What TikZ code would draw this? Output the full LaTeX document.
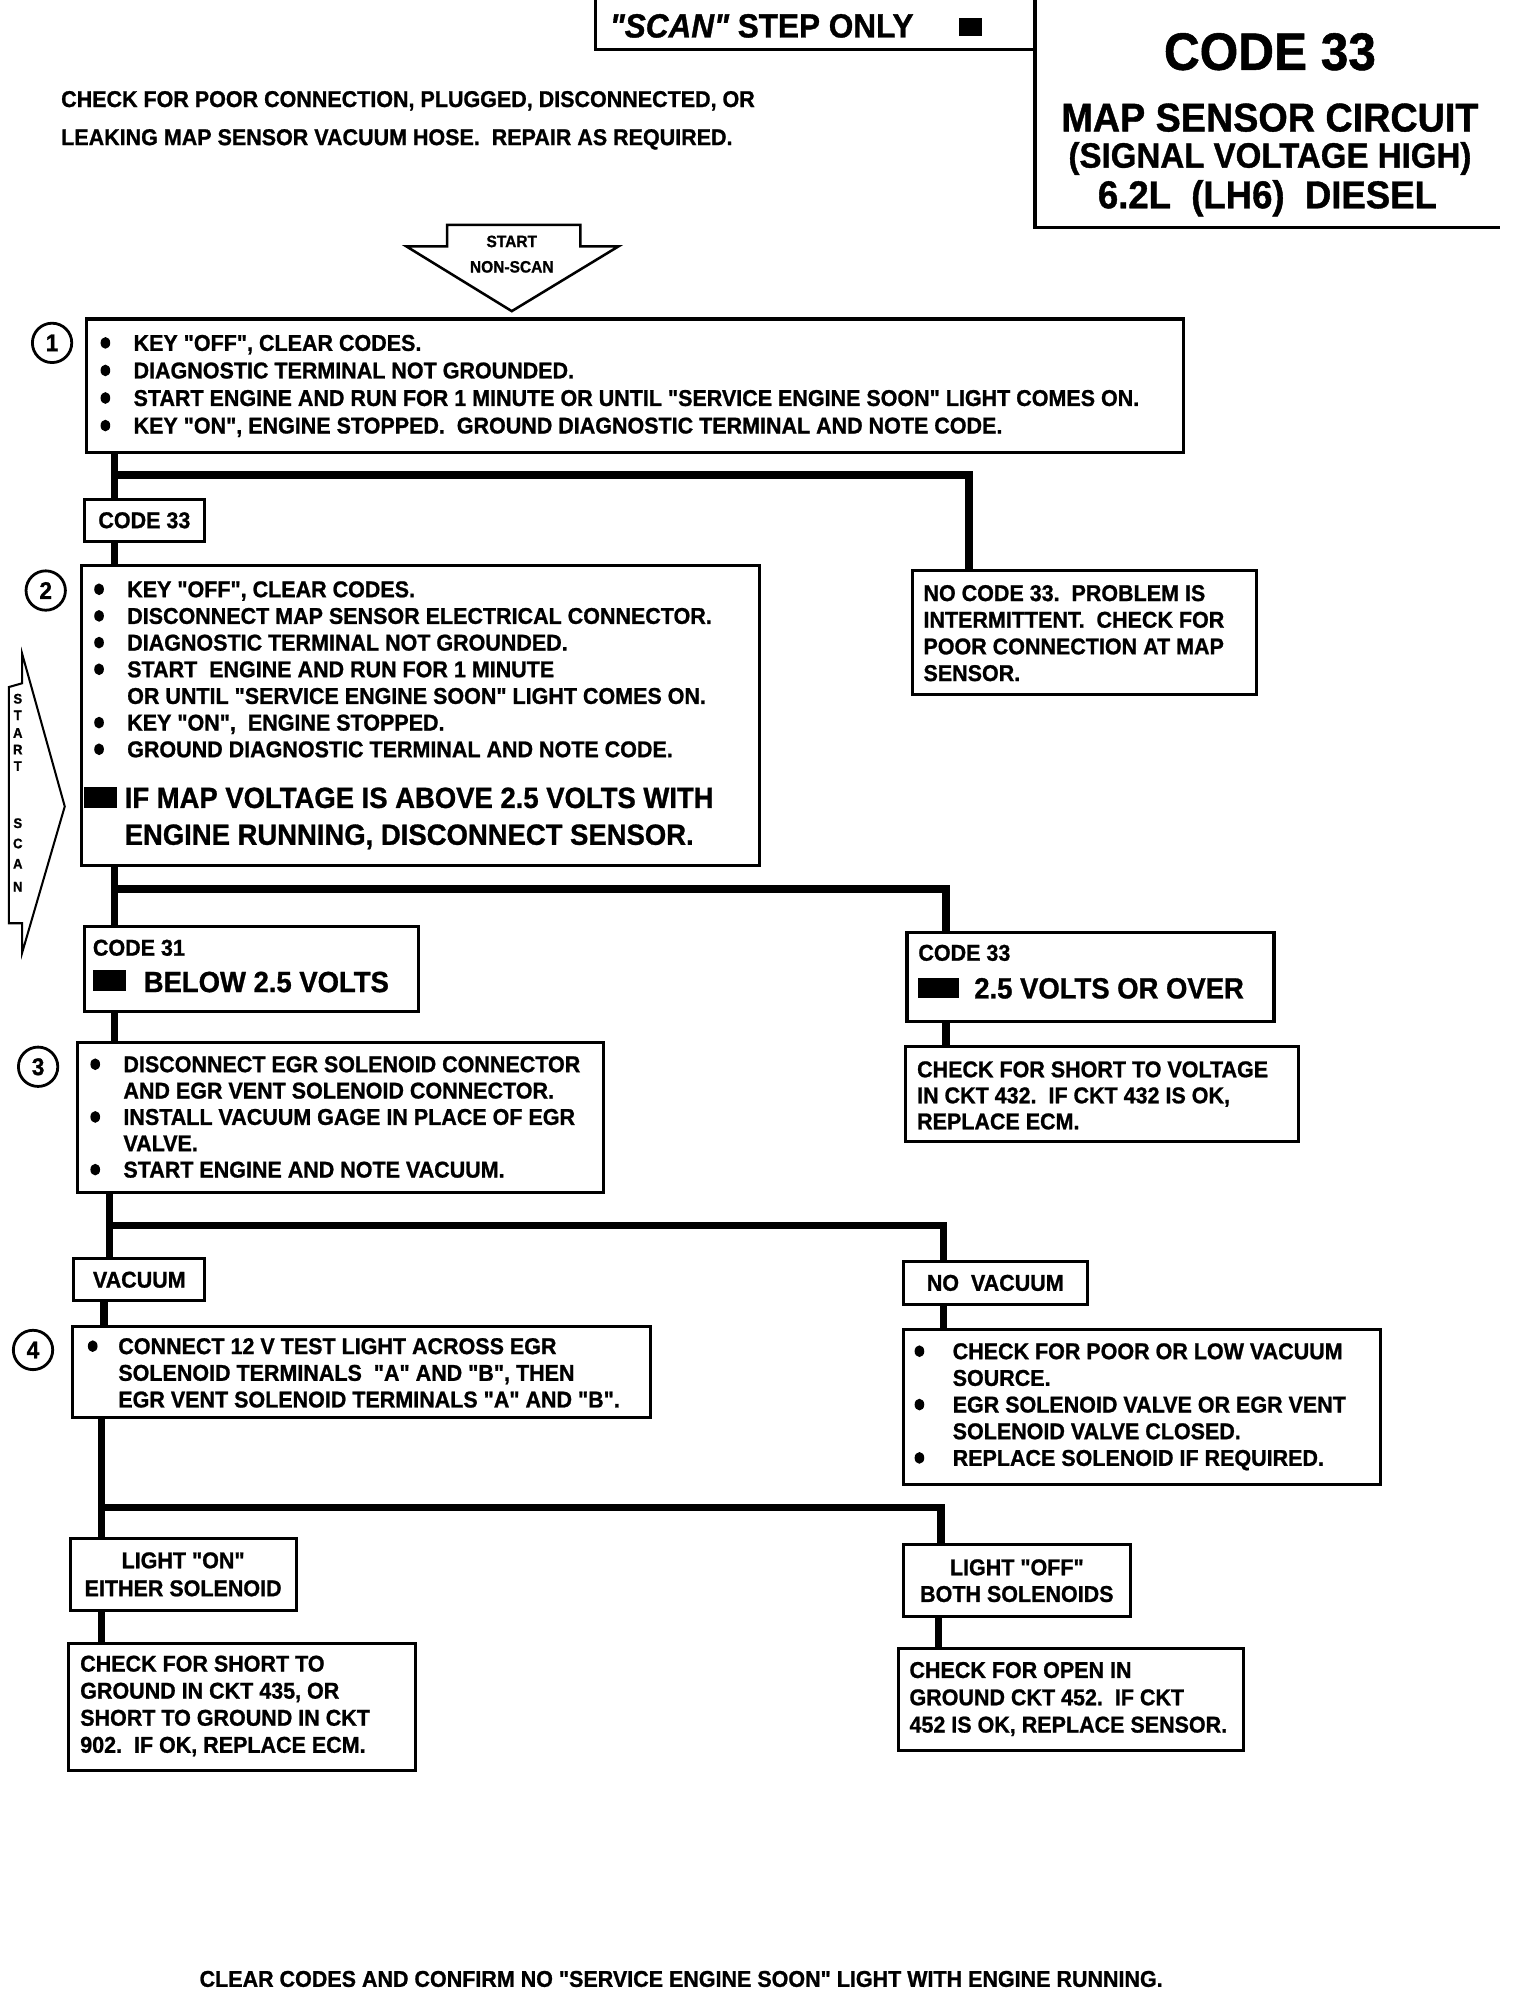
\documentclass[tikz,border=0pt]{standalone}
\usepackage{fontspec}
\setmainfont{Liberation Sans}[FakeStretch=0.94, FakeBold=1, Ligatures=TeXOff]
\newcommand\myfs[2]{\fontsize{#1}{#2}\selectfont}
\newcommand\bx[6][]{\node[box,#1, minimum width={(#5)-(#3)}, minimum height={(#6)-(#4)}] (#2) at (#3,#4)}
\newcommand\bdot[2]{\fill (#1,#2) ellipse [x radius=3.8pt, y radius=4.6pt];}
\begin{document}
\begin{tikzpicture}[x=1pt,y=-1pt,
  box/.style={draw, line width=2.4pt, anchor=north west, inner sep=0pt, font=\bfseries\myfs{18}{21}},
  conn/.style={line width=5.8pt, line join=miter},
  frame/.style={line width=2.4pt},
  txt/.style={inner sep=0pt, align=left, anchor=north west, font=\bfseries\myfs{18}{21}},
  btxt/.style={inner sep=0pt, anchor=base west, font=\bfseries\myfs{23}{29}},
  stxt/.style={inner sep=0pt, anchor=base west, font=\bfseries\myfs{18}{21}},
  ttl/.style={inner sep=0pt, anchor=base},
  num/.style={circle, draw, line width=2.2pt, minimum size=31pt, inner sep=0pt, font=\bfseries\myfs{19}{19}},
  arr/.style={line width=2pt, line join=miter},
  vl/.style={inner sep=0pt, anchor=base, font=\bfseries\myfs{11}{11}}
]
\fill[white] (0,0) rectangle (1197,1567);
\useasboundingbox (0,0) rectangle (1197,1567);

% ---------- header ----------
\draw[frame] (469,0) -- (469,39) -- (815,39);
\draw[frame] (815,0) -- (815,179) -- (1181,179);
\node[ttl, anchor=base west, font=\bfseries\myfs{26.4}{30}] (scan) at (480,29.5) {\itshape "SCAN"\upshape\ STEP ONLY};
\fill (755,14) rectangle (773,28);
\node[ttl, font=\bfseries\myfs{41.5}{44}] (tt1) at (1000,55) {CODE 33};
\node[ttl, font=\bfseries\myfs{31.6}{34}] (tt2) at (1000,103.5) {MAP SENSOR CIRCUIT};
\node[ttl, font=\bfseries\myfs{27.7}{30}] (tt3) at (1000,132) {(SIGNAL VOLTAGE HIGH)};
\node[ttl, font=\bfseries\myfs{30.6}{33}] (tt4) at (998,164) {6.2L\ \ (LH6)\ \ DIESEL};

\node[txt, font=\bfseries\myfs{18}{30}] (note) at (48,71.5) {CHECK FOR POOR CONNECTION, PLUGGED, DISCONNECTED, OR\\LEAKING MAP SENSOR VACUUM HOSE.\ \ REPAIR AS REQUIRED.};

% ---------- start arrows ----------
\draw[arr] (352,177) -- (457,177) -- (457,194) -- (487,194) -- (403,245) -- (320,194) -- (352,194) -- cycle;
\node[ttl, font=\bfseries\myfs{13}{13}] (st1) at (403,194.6) {START};
\node[ttl, font=\bfseries\myfs{13}{13}] (st2) at (403,214.6) {NON-SCAN};

\draw[line width=1.6pt, line join=miter] (7,541) -- (17.5,538) -- (17.5,515) -- (51,635) -- (17.5,750) -- (17.5,727) -- (7,727) -- cycle;
\node[vl] (s1) at (14,554) {S};
\node[vl] (s2) at (14,567) {T};
\node[vl] (s3) at (14,581) {A};
\node[vl] (s4) at (14,594) {R};
\node[vl] (s5) at (14,607) {T};
\node[vl] (s6) at (14,652) {S};
\node[vl] (s7) at (14,668) {C};
\node[vl] (s8) at (14,684) {A};
\node[vl] (s9) at (14,702) {N};

% ---------- boxes ----------
\bx{b1}{67}{250}{931}{355} {};
\bx{c33}{65}{392}{160}{425} {CODE 33};
\bx{b2}{63}{444}{597}{680} {};
\bx{nc}{717}{448}{988}{546} {};
\bx{c31}{65}{728}{328}{795} {};
\bx{c33r}{713}{733}{1002}{803} {};
\bx{sv}{712}{823}{1021}{898} {};
\bx{b3}{60}{820}{474}{938} {};
\bx{vac}{57}{990}{160}{1023} {VACUUM};
\bx{b4}{56}{1043}{511}{1115} {};
\bx{nv}{710}{992}{855}{1026} {NO\ \ VACUUM};
\bx{vb}{710}{1046}{1086}{1168} {};
\bx[align=center, font=\bfseries\myfs{18}{22}]{lon}{54}{1210}{232}{1267} {LIGHT "ON"\\EITHER SOLENOID};
\bx{sg}{53}{1293}{326}{1393} {};
\bx[align=center, font=\bfseries\myfs{18}{21}]{loff}{710}{1215}{889}{1272} {LIGHT "OFF"\\BOTH SOLENOIDS};
\bx{op}{706}{1297}{978}{1377} {};

% ---------- step numbers ----------
\node[num] (n1) at (41,270) {1};
\node[num] (n2) at (36,465) {2};
\node[num] (n3) at (30,840) {3};
\node[num] (n4) at (26,1063) {4};

% ---------- texts ----------
\node[txt, font=\bfseries\myfs{18}{21.7}] (t1) at (105,263.5) {KEY "OFF", CLEAR CODES.\\DIAGNOSTIC TERMINAL NOT GROUNDED.\\START ENGINE AND RUN FOR 1 MINUTE OR UNTIL "SERVICE ENGINE SOON" LIGHT COMES ON.\\KEY "ON", ENGINE STOPPED.\ \ GROUND DIAGNOSTIC TERMINAL AND NOTE CODE.};
\bdot{83}{270}\bdot{83}{291.7}\bdot{83}{313.4}\bdot{83}{335.1}

\node[txt] (t2) at (100,457.5) {KEY "OFF", CLEAR CODES.\\DISCONNECT MAP SENSOR ELECTRICAL CONNECTOR.\\DIAGNOSTIC TERMINAL NOT GROUNDED.\\START\ \ ENGINE AND RUN FOR 1 MINUTE\\OR UNTIL "SERVICE ENGINE SOON" LIGHT COMES ON.\\KEY "ON",\ \ ENGINE STOPPED.\\GROUND DIAGNOSTIC TERMINAL AND NOTE CODE.};
\bdot{78}{464}\bdot{78}{485}\bdot{78}{506}\bdot{78}{527}\bdot{78}{569}\bdot{78}{590}
\fill (66,620) rectangle (92,636);
\node[btxt] (t2a) at (98,636.2) {IF MAP VOLTAGE IS ABOVE 2.5 VOLTS WITH};
\node[btxt] (t2b) at (98,665.2) {ENGINE RUNNING, DISCONNECT SENSOR.};

\node[txt] (tnc) at (727,460.5) {NO CODE 33.\ \ PROBLEM IS\\INTERMITTENT.\ \ CHECK FOR\\POOR CONNECTION AT MAP\\SENSOR.};

\node[stxt] (t31a) at (73,752.5) {CODE 31};
\fill (73,764) rectangle (99,780);
\node[btxt] (t31b) at (113,781.2) {BELOW 2.5 VOLTS};

\node[stxt] (t33a) at (723,756.5) {CODE 33};
\fill (723,770) rectangle (755,786);
\node[btxt] (t33b) at (767,786.2) {2.5 VOLTS OR OVER};

\node[txt, font=\bfseries\myfs{18}{20.5}] (tsv) at (722,835.5) {CHECK FOR SHORT TO VOLTAGE\\IN CKT 432.\ \ IF CKT 432 IS OK,\\REPLACE ECM.};

\node[txt, font=\bfseries\myfs{18}{20.75}] (t3) at (97,831.5) {DISCONNECT EGR SOLENOID CONNECTOR\\AND EGR VENT SOLENOID CONNECTOR.\\INSTALL VACUUM GAGE IN PLACE OF EGR\\VALVE.\\START ENGINE AND NOTE VACUUM.};
\bdot{75}{838}\bdot{75}{879.5}\bdot{75}{921}

\node[txt] (t4) at (93,1053.5) {CONNECT 12 V TEST LIGHT ACROSS EGR\\SOLENOID TERMINALS\ \ "A" AND "B", THEN\\EGR VENT SOLENOID TERMINALS "A" AND "B".};
\bdot{73}{1060}

\node[txt] (tvb) at (750,1057.5) {CHECK FOR POOR OR LOW VACUUM\\SOURCE.\\EGR SOLENOID VALVE OR EGR VENT\\SOLENOID VALVE CLOSED.\\REPLACE SOLENOID IF REQUIRED.};
\bdot{724}{1064}\bdot{724}{1106}\bdot{724}{1148}

\node[txt, font=\bfseries\myfs{18}{21.3}] (tsg) at (63,1303.5) {CHECK FOR SHORT TO\\GROUND IN CKT 435, OR\\SHORT TO GROUND IN CKT\\902.\ \ IF OK, REPLACE ECM.};

\node[txt, font=\bfseries\myfs{18}{21.5}] (top) at (716,1308.5) {CHECK FOR OPEN IN\\GROUND CKT 452.\ \ IF CKT\\452 IS OK, REPLACE SENSOR.};

\node[stxt] (tend) at (157,1564.5) {CLEAR CODES AND CONFIRM NO "SERVICE ENGINE SOON" LIGHT WITH ENGINE RUNNING.};

% ---------- connectors ----------
\coordinate (X1) at (90,0);
\coordinate (X1r) at (763,0);
\coordinate (J1) at (90,374);
\coordinate (X2) at (90,0);
\coordinate (X2r) at (745,0);
\coordinate (J2) at (90,700);
\coordinate (X3) at (86,0);
\coordinate (X3r) at (743,0);
\coordinate (J3) at (86,965);
\coordinate (X4) at (82,0);
\coordinate (X5) at (80,0);
\coordinate (X5r) at (741,0);
\coordinate (X5s) at (739,0);
\coordinate (J5) at (80,1187);

\draw[conn] (b1.south -| X1) -- (c33.north -| X1);
\draw[conn] (J1) -| (nc.north -| X1r);
\draw[conn] (c33.south -| X1) -- (b2.north -| X1);
\draw[conn] (b2.south -| X2) -- (c31.north -| X2);
\draw[conn] (J2) -| (c33r.north -| X2r);
\draw[conn] (c31.south -| X2) -- (b3.north -| X2);
\draw[conn] (c33r.south -| X2r) -- (sv.north -| X2r);
\draw[conn] (b3.south -| X3) -- (vac.north -| X3);
\draw[conn] (J3) -| (nv.north -| X3r);
\draw[conn] (vac.south -| X4) -- (b4.north -| X4);
\draw[conn] (nv.south -| X3r) -- (vb.north -| X3r);
\draw[conn] (b4.south -| X5) -- (lon.north -| X5);
\draw[conn] (J5) -| (loff.north -| X5r);
\draw[conn] (lon.south -| X5) -- (sg.north -| X5);
\draw[conn] (loff.south -| X5s) -- (op.north -| X5s);
\end{tikzpicture}
\end{document}
